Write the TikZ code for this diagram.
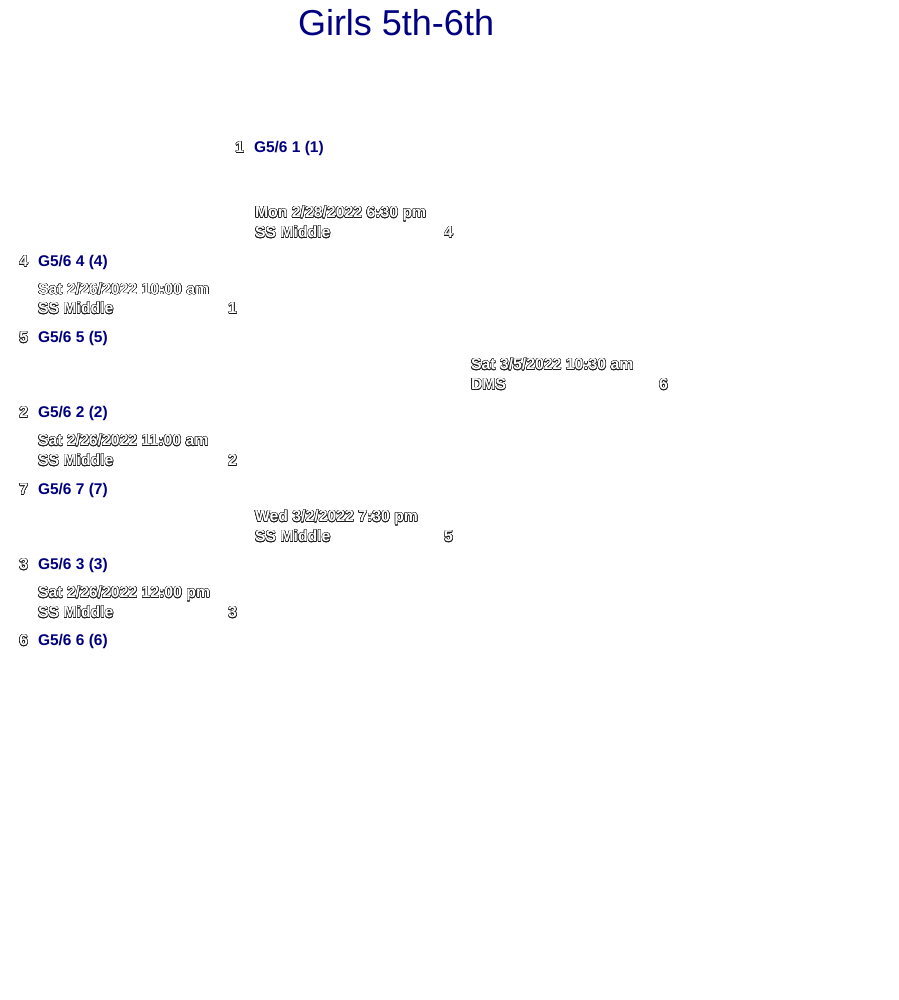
\documentclass[tikz,border=0pt]{standalone}
\usepackage{fontspec}
\setmainfont{Liberation Sans}
\usepackage{contour}
\contourlength{0.42bp}
\definecolor{navy}{RGB}{0,0,128}
\definecolor{rim}{RGB}{25,25,25}
% white lettering with a thin dark rim
\newcommand\hollow[1]{\contour{rim}{\textcolor{white}{#1}}}
\begin{document}
\begin{tikzpicture}[x=1bp,y=-1bp,
  every node/.style={inner sep=0pt,outer sep=0pt},
  title/.style={anchor=base west,text=navy,font=\fontsize{36bp}{40bp}\selectfont},
  team/.style={anchor=base west,text=navy,font=\fontsize{15.5bp}{18bp}\selectfont\bfseries},
  info/.style={anchor=base west,font=\fontsize{15.8bp}{18bp}\selectfont\bfseries},
  seednum/.style={anchor=base east,font=\fontsize{15.5bp}{18bp}\selectfont\bfseries},
  gamenum/.style={anchor=base east,font=\fontsize{15.8bp}{18bp}\selectfont\bfseries}]
\useasboundingbox (0,0) rectangle (899,1000);

\node[title] (title) at (298,35) {Girls 5th-6th};

% bye seed
\node[seednum] (s1) at (244,152.7) {\hollow{1}};
\node[team] (t1) at (254,152.7) {G5/6 1 (1)};

% first round
\node[seednum] (s4) at (28,266.7) {\hollow{4}};
\node[team] (t4) at (38,266.7) {G5/6 4 (4)};
\node[info] (g1d) at (38,294.5) {\hollow{Sat 2/26/2022 10:00 am}};
\node[info] (g1p) at (38,313.7) {\hollow{SS Middle}};
\node[gamenum] (g1n) at (237,313.7) {\hollow{1}};
\node[seednum] (s5) at (28,342.7) {\hollow{5}};
\node[team] (t5) at (38,342.7) {G5/6 5 (5)};

\node[seednum] (s2) at (28,417.7) {\hollow{2}};
\node[team] (t2) at (38,417.7) {G5/6 2 (2)};
\node[info] (g2d) at (38,445.7) {\hollow{Sat 2/26/2022 11:00 am}};
\node[info] (g2p) at (38,465.7) {\hollow{SS Middle}};
\node[gamenum] (g2n) at (237,465.7) {\hollow{2}};
\node[seednum] (s7) at (28,494.7) {\hollow{7}};
\node[team] (t7) at (38,494.7) {G5/6 7 (7)};

\node[seednum] (s3) at (28,569.7) {\hollow{3}};
\node[team] (t3) at (38,569.7) {G5/6 3 (3)};
\node[info] (g3d) at (38,597.7) {\hollow{Sat 2/26/2022 12:00 pm}};
\node[info] (g3p) at (38,617.7) {\hollow{SS Middle}};
\node[gamenum] (g3n) at (237,617.7) {\hollow{3}};
\node[seednum] (s6) at (28,645.7) {\hollow{6}};
\node[team] (t6) at (38,645.7) {G5/6 6 (6)};

% second round
\node[info] (g4d) at (255,217.7) {\hollow{Mon 2/28/2022 6:30 pm}};
\node[info] (g4p) at (255,237.7) {\hollow{SS Middle}};
\node[gamenum] (g4n) at (453,237.7) {\hollow{4}};

\node[info] (g5d) at (255,521.7) {\hollow{Wed 3/2/2022 7:30 pm}};
\node[info] (g5p) at (255,541.7) {\hollow{SS Middle}};
\node[gamenum] (g5n) at (453,541.7) {\hollow{5}};

% final
\node[info] (g6d) at (471,369.7) {\hollow{Sat 3/5/2022 10:30 am}};
\node[info] (g6p) at (471,389.7) {\hollow{DMS}};
\node[gamenum] (g6n) at (668,389.7) {\hollow{6}};
\end{tikzpicture}
\end{document}
